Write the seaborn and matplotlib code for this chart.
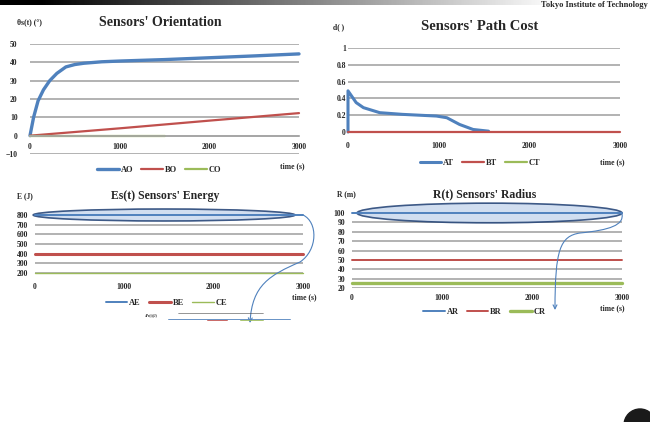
import numpy as np
import pandas as pd
import seaborn as sns
import matplotlib.pyplot as plt
from matplotlib.lines import Line2D
from matplotlib.patches import Ellipse, Circle, FancyArrowPatch
from matplotlib.path import Path

# ---- data ----
t_ao = [0, 40, 90, 150, 220, 300, 400, 500, 600, 800, 1000, 1500, 2000, 2500, 3000]
ao = [0, 10, 19, 25, 30, 34, 37.5, 38.8, 39.5, 40.3, 40.7, 41.5, 42.5, 43.5, 44.6]
t_bo = [0, 1000, 2000, 3000]
bo = [0, 4.0, 8.2, 12.3]
t_co = [0, 1500]
co = [0, 0]

t_at = [0, 0, 90, 170, 350, 600, 975, 1090, 1230, 1380, 1550]
at = [0, 0.49, 0.35, 0.29, 0.23, 0.21, 0.19, 0.17, 0.09, 0.03, 0.01]
t_bt = [0, 3000]
bt = [0, 0]

t_flat = [0, 3000]
ae = [800, 800]
be = [400, 400]
ce = [200, 200]
ar = [100, 100]
br = [50, 50]
cr = [25, 25]

BLUE, RED, GREEN, GRID = "#4f81bd", "#c0504d", "#9bbb59", "#a6a6a6"
W, H = 650, 422

sns.set_theme(style="white")
plt.rcParams["font.family"] = ["Liberation Serif", "DejaVu Serif"]
plt.rcParams["font.weight"] = "bold"

fig = plt.figure(figsize=(6.5, 4.22), dpi=100)


def px_axes(l, t, r, b):
    return fig.add_axes([l / W, 1 - b / H, (r - l) / W, (b - t) / H])


def ftext(x, y, s, **kw):
    fig.text(x / W, 1 - y / H, s, **kw)


def style(ax, ylim, yticks, xpad, ypad):
    ax.set_xlim(0, 3000)
    ax.set_ylim(*ylim)
    ax.set_xticks([0, 1000, 2000, 3000])
    ax.set_yticks(yticks)
    ax.set_xlabel("")
    ax.set_ylabel("")
    for s in ax.spines.values():
        s.set_visible(False)
    ax.yaxis.grid(True, color=GRID, lw=1.2)
    ax.xaxis.grid(False)
    ax.set_axisbelow(True)
    ax.tick_params(axis="x", length=0, pad=xpad, labelsize=5.5)
    ax.tick_params(axis="y", length=0, pad=ypad, labelsize=5.5)
    for lab in ax.get_xticklabels() + ax.get_yticklabels():
        lab.set_fontweight("bold")
    ax.patch.set_alpha(0)


def legend(ax, anchor, extra=None):
    h, l = ax.get_legend_handles_labels()
    if extra:
        h.append(Line2D([], [], color=extra[1], lw=1.6))
        l.append(extra[0])
    ax.legend(h, l, ncol=3, frameon=False, loc="center", bbox_to_anchor=anchor,
              prop={"size": 6, "weight": "bold"}, handlelength=2.6,
              handletextpad=0.2, columnspacing=1.0)


# ---- panel 1: orientation ----
ax1 = px_axes(30, 44, 299, 154)
sns.lineplot(x=t_ao, y=ao, color=BLUE, lw=2.4, label="AO", ax=ax1)
sns.lineplot(x=t_bo, y=bo, color=RED, lw=1.6, label="BO", ax=ax1)
sns.lineplot(x=t_co, y=co, color=GREEN, lw=1.6, label="CO", ax=ax1)
style(ax1, (-10, 50), [-10, 0, 10, 20, 30, 40, 50], 5.5, 9)
ax1.spines["bottom"].set_visible(True)
ax1.spines["bottom"].set_position(("data", 0))
ax1.spines["bottom"].set_color(GRID)
legend(ax1, (0.48, -0.145))

# ---- panel 2: path cost ----
ax2 = px_axes(348, 48, 620, 132)
sns.lineplot(x=t_at, y=at, color=BLUE, lw=2.2, label="AT", ax=ax2,
             estimator=None, sort=False)
sns.lineplot(x=t_bt, y=bt, color=RED, lw=1.6, label="BT", ax=ax2)
style(ax2, (0, 1), [0, 0.2, 0.4, 0.6, 0.8, 1], 7.5, 1.5)
ax2.set_yticklabels(["0", "0.2", "0.4", "0.6", "0.8", "1"])
legend(ax2, (0.485, -0.37), extra=("CT", GREEN))

# ---- panel 3: energy ----
ax3 = px_axes(35, 215, 303, 273)
sns.lineplot(x=t_flat, y=ae, color=BLUE, lw=1.4, label="AE", ax=ax3)
sns.lineplot(x=t_flat, y=be, color=RED, lw=2.2, label="BE", ax=ax3)
sns.lineplot(x=t_flat, y=ce, color=GREEN, lw=1.0, label="CE", ax=ax3)
style(ax3, (200, 800), [200, 300, 400, 500, 600, 700, 800], 7, 5)
legend(ax3, (0.49, -0.52))
ax3.add_patch(Ellipse((1445, 800), 2930, 124, facecolor="#c9d9ee", alpha=0.85,
                      edgecolor="#1f3f73", lw=1.2, clip_on=False, zorder=1))

# ---- panel 4: radius ----
ax4 = px_axes(352, 213, 622, 288)
sns.lineplot(x=t_flat, y=ar, color=BLUE, lw=1.4, label="AR", ax=ax4)
sns.lineplot(x=t_flat, y=br, color=RED, lw=1.4, label="BR", ax=ax4)
sns.lineplot(x=t_flat, y=cr, color=GREEN, lw=2.4, label="CR", ax=ax4)
style(ax4, (20, 100), list(range(20, 101, 10)), 4.5, 5)
legend(ax4, (0.49, -0.32))
ax4.add_patch(Ellipse((1528, 100), 2944, 21, facecolor="#c9d9ee", alpha=0.85,
                      edgecolor="#1f3f73", lw=1.2, clip_on=False, zorder=1))

for ax in (ax1, ax2, ax3, ax4):
    for ln in ax.lines:
        ln.set_clip_on(False)

# ---- titles and axis texts ----
ftext(160, 22, "Sensors' Orientation", fontsize=10, fontweight="bold", ha="center", va="center")
ftext(480, 27, "Sensors' Path Cost", fontsize=10.5, fontweight="bold", ha="center", va="center")
ftext(165, 196, "Es(t) Sensors' Energy", fontsize=8.5, fontweight="bold", ha="center", va="center")
ftext(485, 194, "R(t) Sensors' Radius", fontsize=8.5, fontweight="bold", ha="center", va="center")

small = dict(fontsize=5.5, fontweight="bold", va="center")
ftext(17, 22, "θs(t) (°)", ha="left", **small)
ftext(333, 27, "d( )", ha="left", **small)
ftext(17, 196, "E (J)", ha="left", **small)
ftext(337, 194, "R (m)", ha="left", **small)
ftext(305, 166, "time (s)", ha="right", **small)
ftext(625, 162, "time (s)", ha="right", **small)
ftext(317, 297, "time (s)", ha="right", **small)
ftext(625, 308, "time (s)", ha="right", **small)

# ---- slide decorations ----
top = fig.add_axes([0, 1 - 5 / H, 1, 5 / H])
grad = np.clip((np.linspace(0, 1, 400) - 0.06) / 0.8, 0, 1)
top.imshow(grad[None, :], cmap="gray", aspect="auto", vmin=0, vmax=1)
top.axis("off")
ftext(648, 1, "Tokyo Institute of Technology", fontsize=6, fontweight="bold",
      ha="right", va="top", zorder=5)

over = fig.add_axes([0, 0, 1, 1], zorder=10)
over.set_xlim(0, W)
over.set_ylim(H, 0)
over.axis("off")
over.patch.set_alpha(0)

arrow3 = Path([(303, 215), (318, 222), (318, 250), (300, 262),
               (270, 275), (252, 285), (250, 323)],
              [Path.MOVETO, Path.CURVE4, Path.CURVE4, Path.CURVE4,
               Path.CURVE4, Path.CURVE4, Path.CURVE4])
arrow4 = Path([(622, 214), (624, 225), (610, 230), (580, 233),
               (560, 236), (555, 250), (555, 310)],
              [Path.MOVETO, Path.CURVE4, Path.CURVE4, Path.CURVE4,
               Path.CURVE4, Path.CURVE4, Path.CURVE4])
for p in (arrow3, arrow4):
    over.add_patch(FancyArrowPatch(path=p, arrowstyle="->", mutation_scale=7,
                                   color=BLUE, lw=0.8))

# tiny embedded legend strip under the energy chart
over.plot([168, 290], [319, 319], color=BLUE, lw=0.6)
over.plot([207, 227], [319.5, 319.5], color=RED, lw=0.6)
over.plot([240, 263], [319.5, 319.5], color=GREEN, lw=0.6)
over.plot([178, 263], [313, 313], color="#444444", lw=0.4)
over.text(145, 315, "«Pe(t)(J)", fontsize=2.5, va="center")

over.add_patch(Circle((640, 425), 16, color="#1a1a1a"))

fig.savefig("out.png", dpi=100)
